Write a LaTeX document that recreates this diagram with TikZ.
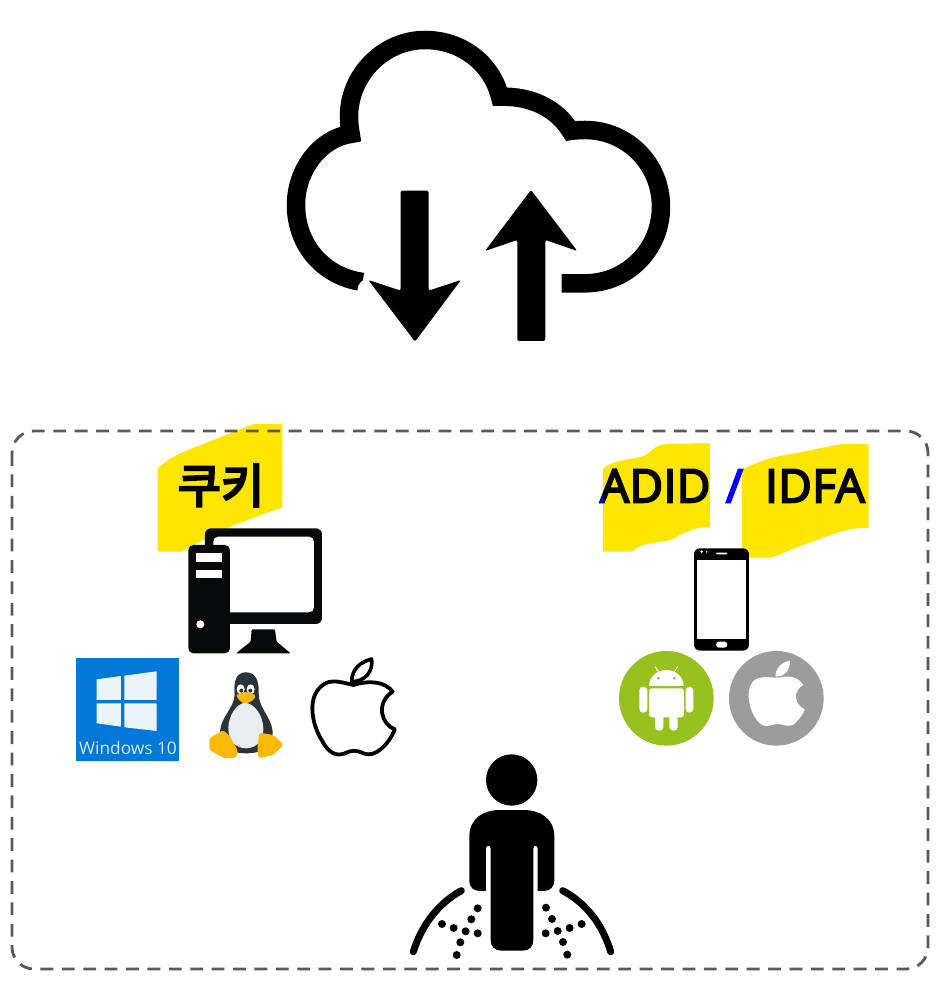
\documentclass[tikz,border=0pt]{standalone}
\usepackage{fontspec}
\setmainfont{Open Sans}
\newfontfamily\latfont[FakeBold=4.2,LetterSpace=1]{Open Sans}
\newfontfamily\cjkfont[FakeBold=5]{Noto Sans CJK KR}
\definecolor{hl}{HTML}{FFE600}
\definecolor{dashgrey}{HTML}{595959}
\definecolor{pc}{HTML}{08090B}
\definecolor{winblue}{HTML}{0078D7}
\definecolor{tuxdark}{HTML}{2B3238}
\definecolor{tuxbelly}{HTML}{E9EDF0}
\definecolor{tuxfoot}{HTML}{FDB90A}
\definecolor{droid}{HTML}{97C11F}
\definecolor{applegrey}{HTML}{9C9C9C}
\definecolor{slashblue}{HTML}{0000FF}
\tikzset{
  zoomA/.style={shift={(60,420)},x=0.3333pt,y=-0.3333pt},
  zoomB/.style={shift={(590,430)},x=0.3333pt,y=-0.3333pt},
  zoomC/.style={shift={(400,740)},x=0.3333pt,y=-0.3333pt},
  zoomD/.style={shift={(280,20)},x=0.3333pt,y=-0.3333pt},
  bigtext/.style={inner sep=0,outer sep=0,font=\fontsize{46}{46}\selectfont\latfont,anchor=base west},
}
\begin{document}
\begin{tikzpicture}[x=1pt,y=-1pt]
\useasboundingbox (0,0) rectangle (942,981);
\fill[white] (0,0) rectangle (942,981);

% highlights
\begin{scope}[zoomA]
\fill[hl] plot[smooth,tension=0.6] coordinates {(293,145)(350,105)(460,60)(580,12)} -- (667,12) -- plot[smooth,tension=0.6] coordinates {(667,262)(500,325)(390,382)(360,395)} -- (293,395) -- cycle;
\end{scope}
\begin{scope}[zoomB]
\fill[hl] plot[smooth,tension=0.6] coordinates {(39,115)(80,95)(160,78)(200,50)(240,42)(360,40)} -- plot[smooth,tension=0.6] coordinates {(360,292)(320,295)(270,315)(240,330)(160,345)(125,365)} -- (39,365) -- cycle;
\fill[hl] plot[smooth,tension=0.6] coordinates {(456,118)(540,85)(640,65)(740,45)(780,42)(836,43)} -- plot[smooth,tension=0.6] coordinates {(836,295)(770,300)(640,345)(545,383)} -- (456,383) -- cycle;
\end{scope}

% dashed frame
\draw[dashgrey,line width=2.8pt,dash pattern=on 12.8pt off 8.6pt,rounded corners=22pt] (12,431) rectangle (928,969);

% cloud
\begin{scope}[zoomD]
\draw[line width=18.5pt,line join=miter,miter limit=10]
 (845,790) -- (915,790)
 .. controls (1040,790) and (1143,690) .. (1143,560)
 .. controls (1143,430) and (1040,330) .. (915,330)
 .. controls (900,330) and (885,331) .. (872,333)
 .. controls (830,265) and (755,228) .. (660,230)
 .. controls (635,130) and (545,60) .. (435,60)
 .. controls (310,60) and (207,165) .. (207,290)
 .. controls (207,310) and (209,325) .. (212,342)
 .. controls (120,355) and (48,450) .. (48,555)
 .. controls (48,675) and (130,770) .. (248,786);
\fill[white] (270,812) circle[radius=38];
\fill[rounded corners=2pt] (362,512) -- (446,512) -- (446,812) -- (543,780) -- (405,965) -- (265,780) -- (362,812) -- cycle;
\fill[rounded corners=2pt] (753,510) -- (892,693) -- (796,660) -- (796,963) -- (712,963) -- (712,660) -- (615,693) -- cycle;
\end{scope}

% left group
\begin{scope}[zoomA]
\node[inner sep=0,font=\fontsize{47}{47}\selectfont\cjkfont] (cookie) at (483,196) {쿠키};
% computer
\fill[pc,rounded corners=6pt] (435,400) -- (435,325) -- (786,325) -- (786,612) -- (480,612) -- (480,400) -- cycle;
\fill[white,rounded corners=5pt] (460,350) rectangle (762,577);
\fill[pc,rounded corners=5pt] (385,375) rectangle (510,700);
\fill[white] (408,400) rectangle (485,425);
\fill[white] (408,450) rectangle (485,475);
\fill[white] (421,613) circle[radius=12];
\fill[pc,rounded corners=1pt] (528,700) -- (572,665) -- (575,628) -- (645,628) -- (650,665) -- (692,700) -- cycle;
% windows
\fill[winblue] (48,714) rectangle (357,1022);
\fill[white,opacity=.92] (110,778) -- (183,768) -- (183,840) -- (110,840) -- cycle;
\fill[white,opacity=.92] (193,767) -- (290,754) -- (290,840) -- (193,840) -- cycle;
\fill[white,opacity=.92] (110,850) -- (183,850) -- (183,920) -- (110,910) -- cycle;
\fill[white,opacity=.92] (193,850) -- (290,850) -- (290,933) -- (193,922) -- cycle;
\node[inner sep=0,text=white,opacity=.85,font=\fontsize{17.3}{18}\selectfont] (win10) at (204,984) {Windows 10};
% tux
\fill[tuxdark] (558,757) .. controls (528,757) and (520,785) .. (524,825)
 .. controls (522,865) and (483,890) .. (480,935)
 .. controls (478,970) and (500,1000) .. (558,1000)
 .. controls (620,1000) and (642,970) .. (638,935)
 .. controls (634,890) and (596,865) .. (596,820)
 .. controls (598,785) and (588,757) .. (558,757) -- cycle;
\fill[tuxbelly] (555,848) .. controls (527,852) and (505,890) .. (505,925)
 .. controls (505,965) and (530,985) .. (558,985)
 .. controls (590,985) and (612,960) .. (610,925)
 .. controls (608,885) and (585,852) .. (555,848) -- cycle;
\fill[white] (542,808) ellipse[x radius=12,y radius=15];
\fill[white] (572,808) ellipse[x radius=12,y radius=15];
\fill[tuxdark] (544,812) circle[radius=6];
\fill[tuxdark] (571,812) circle[radius=6];
\fill[tuxfoot] (530,825) .. controls (545,815) and (565,812) .. (585,825)
 .. controls (590,835) and (570,850) .. (555,850)
 .. controls (545,850) and (530,835) .. (530,825) -- cycle;
\fill[tuxfoot,rounded corners=2.5pt] (448,955) -- (490,930) -- (510,950) -- (533,990) -- (530,1012) -- (495,1016) -- (448,990) -- cycle;
\fill[tuxfoot,rounded corners=2.5pt] (598,938) -- (640,945) -- (671,975) -- (640,1005) -- (596,1015) -- (592,985) -- cycle;
% apple outline
\draw[black,line width=3.8pt,line join=round,fill=white]
 (880,795) .. controls (835,785) and (800,770) .. (770,815)
 .. controls (745,855) and (760,920) .. (785,960)
 .. controls (805,1000) and (830,1010) .. (855,1000)
 .. controls (875,990) and (890,990) .. (910,1000)
 .. controls (945,1015) and (985,975) .. (1005,928)
 .. controls (965,915) and (945,850) .. (998,815)
 .. controls (975,785) and (930,780) .. (880,795) -- cycle;
\draw[black,line width=3.6pt,line join=round,fill=white]
 (875,785) .. controls (875,745) and (905,725) .. (935,717)
 .. controls (940,755) and (915,785) .. (875,785) -- cycle;
\end{scope}

% right group
\begin{scope}[zoomB]
\node[bigtext,text=black] (adid) at (30,217) {ADID};
\fill[slashblue] (28,218) -- (39,218) -- (39,196) -- cycle;
\node[bigtext,text=slashblue] (slash) at (408,217) {/};
\node[bigtext,text=black] (idfa) at (525,217) {IDFA};
% phone
\fill[black,rounded corners=6pt] (312,355) rectangle (477,662);
\fill[white] (322,390) rectangle (468,627);
\fill[white,rounded corners=1pt] (378,368) rectangle (412,373);
\fill[white] (335,365) circle[radius=4];
\fill[white] (350,366) circle[radius=2.5];
\fill[white,rounded corners=3pt] (378,635) rectangle (412,653);
% android
\fill[droid] (229,805) circle[radius=142];
\fill[white] (177,768) arc[start angle=180,end angle=0,x radius=52,y radius=-48] -- cycle;
\draw[white,line width=1pt] (205,725) -- (195,710);
\draw[white,line width=1pt] (253,725) -- (263,710);
\fill[droid] (205,745) circle[radius=4.5];
\fill[droid] (253,745) circle[radius=4.5];
\fill[white,rounded corners=3pt] (177,775) rectangle (282,862);
\fill[white,rounded corners=3.8pt] (148,770) rectangle (172,848);
\fill[white,rounded corners=3.8pt] (287,770) rectangle (310,848);
\fill[white,rounded corners=3.8pt] (195,850) rectangle (220,902);
\fill[white,rounded corners=3.8pt] (238,850) rectangle (263,902);
% ios
\fill[applegrey] (559,805) circle[radius=142];
\fill[white] (570,743) .. controls (540,745) and (500,730) .. (482,765)
 .. controls (465,800) and (485,860) .. (510,880)
 .. controls (525,895) and (540,885) .. (560,882)
 .. controls (580,880) and (600,900) .. (620,875)
 .. controls (630,865) and (640,850) .. (644,838)
 .. controls (615,825) and (605,785) .. (640,765)
 .. controls (620,735) and (590,738) .. (570,743) -- cycle;
\fill[white] (557,740) .. controls (555,715) and (575,697) .. (600,692)
 .. controls (600,720) and (585,740) .. (557,740) -- cycle;
\end{scope}

% person
\begin{scope}[zoomC]
\fill (335,120) circle[radius=77];
\fill (208,290) .. controls (208,235) and (250,210) .. (300,210) -- (370,210)
 .. controls (420,210) and (463,235) .. (463,290) -- (463,420)
 .. controls (463,442) and (450,453) .. (430,453) -- (413,453) -- (413,325)
 .. controls (413,315) and (400,315) .. (400,325) -- (400,600)
 .. controls (400,620) and (388,632) .. (368,632) -- (305,632)
 .. controls (285,632) and (272,620) .. (272,600) -- (272,325)
 .. controls (272,315) and (258,315) .. (258,325) -- (258,453) -- (240,453)
 .. controls (220,453) and (208,442) .. (208,420) -- cycle;
\draw[line width=7pt,line cap=round] (184,452) .. controls (115,490) and (65,555) .. (40,635);
\draw[line width=7pt,line cap=round] (488,452) .. controls (560,490) and (608,555) .. (632,635);
\foreach \p in {(233,505),(214,538),(197,574),(233,580),(126,552),(161,564),(181,607),(170,645),(438,503),(456,537),(473,573),(437,580),(545,552),(509,564),(489,606),(502,644)}
  \fill \p circle[radius=12];
\end{scope}
\end{tikzpicture}
\end{document}
